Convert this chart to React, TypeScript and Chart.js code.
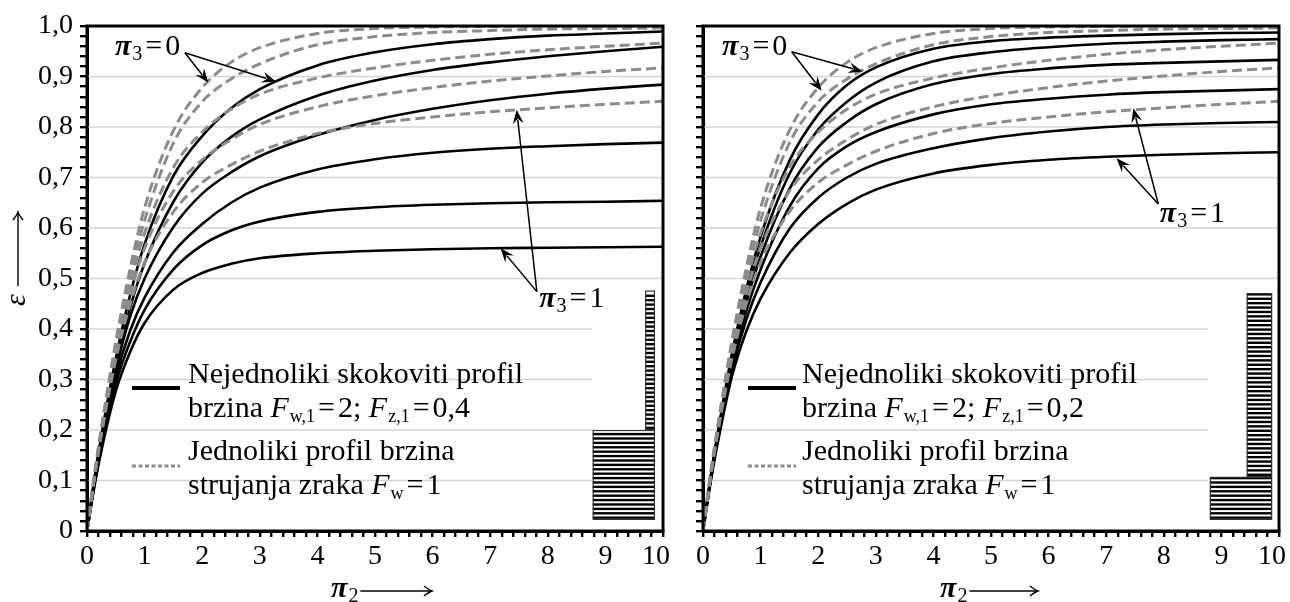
import React, { useEffect, useRef } from 'react';
import { Chart, registerables } from 'chart.js';

Chart.register(...registerables);

const FONT = '"Liberation Serif", "Times New Roman", serif';

// π2 sample positions (x axis)
const pi2 = [0, 0.15, 0.3, 0.5, 0.75, 1, 1.5, 2, 2.5, 3, 4, 5, 6, 7, 8, 9, 10];

// Uniform velocity profile (dashed, same in both panels), π3 = 0 ... 1
const uniformA = [0, 0.128, 0.24, 0.375, 0.52, 0.64, 0.793, 0.878, 0.928, 0.957, 0.985, 0.995, 0.998, 0.999, 1.0, 1.0, 1.0];
const uniformB = [0, 0.127, 0.236, 0.367, 0.505, 0.615, 0.768, 0.85, 0.895, 0.925, 0.963, 0.979, 0.987, 0.991, 0.994, 0.995, 0.996];
const uniformC = [0, 0.125, 0.232, 0.358, 0.49, 0.59, 0.72, 0.79, 0.835, 0.865, 0.897, 0.917, 0.932, 0.944, 0.953, 0.96, 0.966];
const uniformD = [0, 0.123, 0.228, 0.35, 0.47, 0.56, 0.673, 0.735, 0.775, 0.805, 0.84, 0.862, 0.878, 0.891, 0.901, 0.91, 0.917];
const uniformE = [0, 0.121, 0.223, 0.34, 0.45, 0.532, 0.632, 0.69, 0.725, 0.752, 0.787, 0.807, 0.82, 0.83, 0.838, 0.845, 0.851];

// Non-uniform step profile, F_w,1 = 2; F_z,1 = 0,4 (left panel)
const left1 = [0, 0.12, 0.222, 0.342, 0.468, 0.568, 0.703, 0.782, 0.837, 0.875, 0.922, 0.948, 0.964, 0.974, 0.981, 0.985, 0.989];
const left2 = [0, 0.117, 0.215, 0.33, 0.443, 0.53, 0.652, 0.73, 0.78, 0.815, 0.862, 0.892, 0.913, 0.928, 0.94, 0.95, 0.959];
const left3 = [0, 0.113, 0.207, 0.318, 0.425, 0.5, 0.602, 0.668, 0.71, 0.742, 0.784, 0.814, 0.836, 0.853, 0.866, 0.876, 0.884];
const left4 = [0, 0.11, 0.2, 0.305, 0.397, 0.462, 0.552, 0.608, 0.65, 0.68, 0.716, 0.736, 0.749, 0.757, 0.762, 0.766, 0.769];
const left5 = [0, 0.106, 0.193, 0.292, 0.375, 0.438, 0.518, 0.566, 0.595, 0.613, 0.632, 0.641, 0.646, 0.649, 0.651, 0.652, 0.654];
const left6 = [0, 0.102, 0.185, 0.277, 0.355, 0.412, 0.478, 0.511, 0.529, 0.54, 0.55, 0.555, 0.558, 0.56, 0.561, 0.562, 0.563];

// Non-uniform step profile, F_w,1 = 2; F_z,1 = 0,2 (right panel)
const right1 = [0, 0.12, 0.223, 0.35, 0.478, 0.583, 0.733, 0.825, 0.883, 0.918, 0.955, 0.97, 0.977, 0.981, 0.984, 0.986, 0.987];
const right2 = [0, 0.119, 0.219, 0.343, 0.465, 0.563, 0.707, 0.795, 0.85, 0.888, 0.93, 0.948, 0.958, 0.965, 0.969, 0.972, 0.974];
const right3 = [0, 0.117, 0.215, 0.335, 0.452, 0.543, 0.677, 0.76, 0.81, 0.845, 0.885, 0.905, 0.916, 0.923, 0.927, 0.93, 0.933];
const right4 = [0, 0.115, 0.211, 0.326, 0.435, 0.518, 0.642, 0.718, 0.762, 0.79, 0.825, 0.845, 0.856, 0.864, 0.869, 0.872, 0.875];
const right5 = [0, 0.112, 0.206, 0.316, 0.418, 0.492, 0.598, 0.66, 0.7, 0.727, 0.758, 0.778, 0.791, 0.8, 0.805, 0.808, 0.81];
const right6 = [0, 0.109, 0.2, 0.305, 0.395, 0.46, 0.55, 0.608, 0.648, 0.676, 0.708, 0.725, 0.735, 0.741, 0.745, 0.748, 0.75];

const uniformSeries = [uniformA, uniformB, uniformC, uniformD, uniformE];
const leftSeries = [left1, left2, left3, left4, left5, left6];
const rightSeries = [right1, right2, right3, right4, right5, right6];

const xTickLabels = ['0', '1', '2', '3', '4', '5', '6', '7', '8', '9', '10\u00a0\u00a0'];
const yTickLabels = ['0', '0,1', '0,2', '0,3', '0,4', '0,5', '0,6', '0,7', '0,8', '0,9', '1,0'];
const gridValues = [0.1, 0.2, 0.3, 0.4, 0.5, 0.6, 0.7, 0.8, 0.9];
const gridClipX = 8.77;

type Pt = [number, number];
interface Ann { label: Pt; origin: Pt; tips: Pt[]; value: string }
interface Rect { x0: number; x1: number; y0: number; y1: number }
interface PanelCfg {
  series: number[][];
  fz: string;
  showYLabels: boolean;
  padLeft: number;
  padRight: number;
  yWidth: number;
  anns: Ann[];
  inset: Rect[];
  xTitleX: number;
  xArrowEnd: number;
  legendX: number;
}

const leftCfg: PanelCfg = {
  series: leftSeries,
  fz: '0,4',
  showYLabels: true,
  padLeft: 0,
  padRight: 1320 - 663,
  yWidth: 87,
  anns: [
    { label: [0.486, 0.943], origin: [1.7, 0.947], tips: [[2.106, 0.888], [3.28, 0.89]], value: '0' },
    { label: [7.85, 0.444], origin: [7.81, 0.474], tips: [[7.18, 0.56], [7.46, 0.834]], value: '1' },
  ],
  inset: [
    { x0: 8.78, x1: 9.86, y0: 0.022, y1: 0.2 },
    { x0: 9.69, x1: 9.86, y0: 0.2, y1: 0.476 },
  ],
  xTitleX: 331,
  xArrowEnd: 432,
  legendX: 101,
};

const rightCfg: PanelCfg = {
  series: rightSeries,
  fz: '0,2',
  showYLabels: false,
  padLeft: 680,
  padRight: 1320 - 1279,
  yWidth: 23,
  anns: [
    { label: [0.33, 0.943], origin: [1.54, 0.949], tips: [[2.06, 0.872], [2.77, 0.91]], value: '0' },
    { label: [7.93, 0.611], origin: [7.905, 0.6475], tips: [[7.18, 0.738], [7.47, 0.837]], value: '1' },
  ],
  inset: [
    { x0: 8.8, x1: 9.88, y0: 0.022, y1: 0.107 },
    { x0: 9.44, x1: 9.88, y0: 0.107, y1: 0.471 },
  ],
  xTitleX: 940,
  xArrowEnd: 1038,
  legendX: 99,
};

interface Part { t: string; f?: string; s?: number; dy?: number; dx?: number }

function drawRich(ctx: CanvasRenderingContext2D, x: number, y: number, parts: Part[], base = 30) {
  let cx = x;
  ctx.textAlign = 'left';
  ctx.textBaseline = 'alphabetic';
  for (const p of parts) {
    const size = p.s ?? base;
    ctx.font = `${p.f ?? ''} ${size}px ${FONT}`.trim();
    cx += p.dx ?? 0;
    ctx.fillText(p.t, cx, y + (p.dy ?? 0));
    cx += ctx.measureText(p.t).width;
  }
  return cx;
}

function arrow(ctx: CanvasRenderingContext2D, x0: number, y0: number, x1: number, y1: number) {
  const ang = Math.atan2(y1 - y0, x1 - x0);
  const c = Math.cos(ang), s = Math.sin(ang);
  const L = 14, W = 5.5;
  ctx.beginPath();
  ctx.moveTo(x0, y0);
  ctx.lineTo(x1 - c * (L - 4), y1 - s * (L - 4));
  ctx.stroke();
  ctx.beginPath();
  ctx.moveTo(x1, y1);
  ctx.lineTo(x1 - L * c - W * s, y1 - L * s + W * c);
  ctx.lineTo(x1 - (L - 5) * c, y1 - (L - 5) * s);
  ctx.lineTo(x1 - L * c + W * s, y1 - L * s - W * c);
  ctx.closePath();
  ctx.fill();
}

function makeDecor(cfg: PanelCfg) {
  return {
    id: 'decor',
    beforeDatasetsDraw(chart: any) {
      const { ctx, chartArea: a } = chart;
      const xs = chart.scales.x, ys = chart.scales.y;
      ctx.save();
      ctx.strokeStyle = '#d4d4d4';
      ctx.lineWidth = 1.6;
      for (const v of gridValues) {
        const py = ys.getPixelForValue(v);
        const xe = v <= 0.4001 ? xs.getPixelForValue(gridClipX) : a.right;
        ctx.beginPath();
        ctx.moveTo(a.left, py);
        ctx.lineTo(xe, py);
        ctx.stroke();
      }
      ctx.restore();
    },
    afterDatasetsDraw(chart: any) {
      const { ctx, chartArea: a } = chart;
      const xs = chart.scales.x, ys = chart.scales.y;
      ctx.save();
      // inset sketch of velocity profile
      for (const r of cfg.inset) {
        const x0 = xs.getPixelForValue(r.x0), x1 = xs.getPixelForValue(r.x1);
        const yT = ys.getPixelForValue(r.y1), yB = ys.getPixelForValue(r.y0);
        ctx.fillStyle = '#fff';
        ctx.fillRect(x0, yT, x1 - x0, yB - yT);
        ctx.fillStyle = '#000';
        for (let yy = yB - 1; yy > yT + 2; yy -= 4.4) ctx.fillRect(x0, yy - 2.4, x1 - x0, 2.4);
        ctx.strokeStyle = '#333';
        ctx.lineWidth = 1.2;
        ctx.strokeRect(x0 + 0.5, yT + 0.5, x1 - x0 - 1, yB - yT - 1);
      }
      // annotations
      ctx.fillStyle = '#000';
      ctx.strokeStyle = '#000';
      ctx.lineWidth = 1.5;
      for (const an of cfg.anns) {
        const ox = xs.getPixelForValue(an.origin[0]), oy = ys.getPixelForValue(an.origin[1]);
        for (const t of an.tips) arrow(ctx, ox, oy, xs.getPixelForValue(t[0]), ys.getPixelForValue(t[1]));
        drawRich(ctx, xs.getPixelForValue(an.label[0]), ys.getPixelForValue(an.label[1]), [
          { t: 'π', f: 'bold italic' },
          { t: '3', s: 20, dy: 5, dx: 1 },
          { t: '=', dx: 3 },
          { t: an.value, dx: 3 },
        ]);
      }
      // legend
      const L = a.left;
      ctx.setLineDash([]);
      ctx.strokeStyle = '#000';
      ctx.lineWidth = 4;
      ctx.beginPath(); ctx.moveTo(L + 45, 388); ctx.lineTo(L + 93, 388); ctx.stroke();
      ctx.strokeStyle = '#8c8c8c';
      ctx.lineWidth = 3;
      ctx.setLineDash([4, 2.5]);
      ctx.beginPath(); ctx.moveTo(L + 45, 466); ctx.lineTo(L + 93, 466); ctx.stroke();
      ctx.setLineDash([]);
      ctx.fillStyle = '#000';
      const tx = L + cfg.legendX;
      drawRich(ctx, tx, 382.5, [{ t: 'Nejednoliki skokoviti profil' }]);
      drawRich(ctx, tx, 416.5, [
        { t: 'brzina ' }, { t: 'F', f: 'italic' }, { t: 'w,1', s: 18, dy: 5, dx: 1 },
        { t: '=', dx: 3 }, { t: '2; ', dx: 3 }, { t: 'F', f: 'italic' }, { t: 'z,1', s: 18, dy: 5, dx: 1 },
        { t: '=', dx: 3 }, { t: cfg.fz, dx: 3 },
      ]);
      drawRich(ctx, tx, 460, [{ t: 'Jednoliki profil brzina' }]);
      drawRich(ctx, tx, 494, [
        { t: 'strujanja zraka ' }, { t: 'F', f: 'italic' }, { t: 'w', s: 18, dy: 5, dx: 1 },
        { t: '=', dx: 3 }, { t: '1', dx: 3 },
      ]);
      ctx.restore();
    },
    afterDraw(chart: any) {
      const { ctx, chartArea: a } = chart;
      ctx.save();
      ctx.strokeStyle = '#000';
      ctx.lineWidth = 3;
      ctx.strokeRect(a.left, a.top, a.right - a.left, a.bottom - a.top);
      ctx.fillStyle = '#000';
      ctx.lineWidth = 1.4;
      // x-axis title
      const end = drawRich(ctx, cfg.xTitleX, 597, [{ t: 'π', f: 'bold italic' }, { t: '2', s: 20, dy: 5, dx: 1 }]);
      const ay = 591;
      ctx.beginPath(); ctx.moveTo(end + 2, ay); ctx.lineTo(cfg.xArrowEnd, ay); ctx.stroke();
      ctx.beginPath();
      ctx.moveTo(cfg.xArrowEnd - 8, ay - 5); ctx.quadraticCurveTo(cfg.xArrowEnd - 3, ay - 1, cfg.xArrowEnd, ay);
      ctx.quadraticCurveTo(cfg.xArrowEnd - 3, ay + 1, cfg.xArrowEnd - 8, ay + 5);
      ctx.stroke();
      // y-axis title
      if (cfg.showYLabels) {
        ctx.translate(18, 300);
        ctx.rotate(-Math.PI / 2);
        ctx.font = `italic 30px ${FONT}`;
        ctx.textAlign = 'center';
        ctx.textBaseline = 'alphabetic';
        ctx.fillText('ε', 0, 7);
        ctx.beginPath(); ctx.moveTo(14, 0); ctx.lineTo(88, 0); ctx.stroke();
        ctx.beginPath();
        ctx.moveTo(80, -5); ctx.quadraticCurveTo(85, -1, 88, 0);
        ctx.quadraticCurveTo(85, 1, 80, 5);
        ctx.stroke();
      }
      ctx.restore();
    },
  };
}

function buildChart(canvas: HTMLCanvasElement, cfg: PanelCfg) {
  const mk = (s: number[]) => pi2.map((x, i) => ({ x, y: s[i] }));
  const datasets: any[] = [
    ...uniformSeries.map((s) => ({
      data: mk(s), borderColor: '#8c8c8c', borderWidth: 3, borderDash: [10, 5],
      pointRadius: 0, fill: false, cubicInterpolationMode: 'monotone',
    })),
    ...cfg.series.map((s) => ({
      data: mk(s), borderColor: '#000', borderWidth: 2.6,
      pointRadius: 0, fill: false, cubicInterpolationMode: 'monotone',
    })),
  ];
  const tickFont = { family: FONT, size: 28 };
  return new Chart(canvas, {
    type: 'line',
    data: { datasets },
    options: {
      responsive: false,
      animation: false,
      devicePixelRatio: 1,
      events: [],
      layout: { padding: { left: cfg.padLeft, right: cfg.padRight, top: 26, bottom: 0 } },
      plugins: { legend: { display: false }, tooltip: { enabled: false } },
      scales: {
        x: {
          type: 'linear', min: 0, max: 10,
          ticks: {
            stepSize: 0.2, maxTicksLimit: 100, autoSkip: false, maxRotation: 0, minRotation: 0,
            padding: 3, color: '#000', font: tickFont,
            callback: (v: any) => {
              const k = Math.round(Number(v));
              return Math.abs(Number(v) - k) < 1e-6 ? xTickLabels[k] : '';
            },
          },
          grid: { drawOnChartArea: false, drawTicks: true, tickLength: 6, color: '#000', lineWidth: 2.4 },
          border: { display: true, color: '#000', width: 3 },
          afterFit: (s: any) => { s.height = 71; },
        },
        y: {
          type: 'linear', min: 0, max: 1,
          ticks: {
            stepSize: 0.02, maxTicksLimit: 100, autoSkip: false, padding: 7, color: '#000', font: tickFont,
            callback: (v: any) => {
              if (!cfg.showYLabels) return '';
              const k = Math.round(Number(v) * 10);
              return Math.abs(Number(v) * 10 - k) < 1e-6 ? yTickLabels[k] : '';
            },
          },
          grid: { drawOnChartArea: false, drawTicks: true, tickLength: 7, color: '#000', lineWidth: 2.4 },
          border: { display: true, color: '#000', width: 3 },
          afterFit: (s: any) => { s.width = cfg.yWidth; },
        },
      },
    } as any,
    plugins: [makeDecor(cfg) as any],
  });
}

export default function App() {
  const leftRef = useRef<HTMLCanvasElement>(null);
  const rightRef = useRef<HTMLCanvasElement>(null);
  useEffect(() => {
    Chart.defaults.font.family = FONT;
    const c1 = buildChart(leftRef.current!, leftCfg);
    const c2 = buildChart(rightRef.current!, rightCfg);
    return () => {
      c1.destroy();
      c2.destroy();
    };
  }, []);
  const cs: React.CSSProperties = { position: 'absolute', left: 0, top: 0, width: 1320, height: 602 };
  return (
    <div style={{ position: 'fixed', left: 0, top: 0, width: 1290, height: 602, overflow: 'hidden', background: '#fff' }}>
      <canvas ref={leftRef} width={1320} height={602} style={cs} />
      <canvas ref={rightRef} width={1320} height={602} style={cs} />
    </div>
  );
}
